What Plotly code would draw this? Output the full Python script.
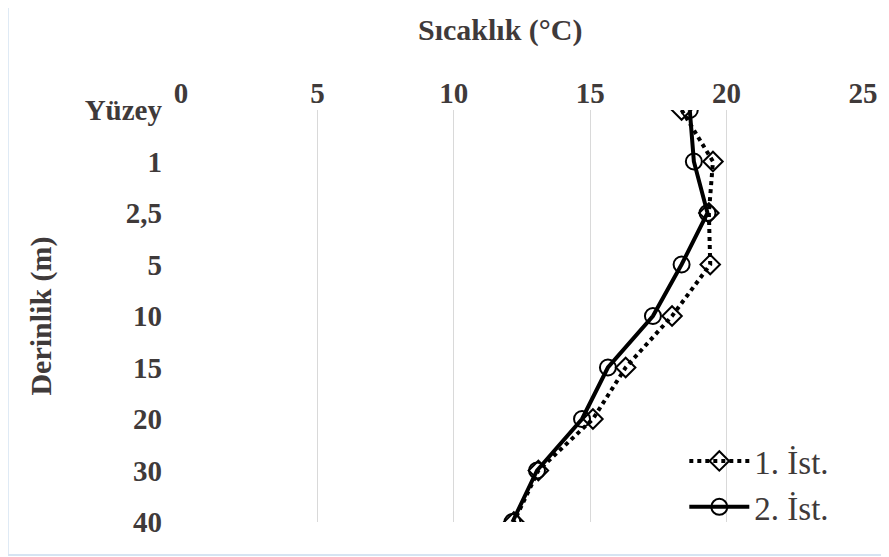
import plotly.graph_objects as go

depths = ["Yüzey", "1", "2,5", "5", "10", "15", "20", "30", "40"]
ist1 = [18.35, 19.5, 19.35, 19.4, 18.0, 16.3, 15.1, 13.1, 12.2]
ist2 = [18.65, 18.8, 19.3, 18.35, 17.3, 15.65, 14.7, 13.05, 12.15]
x_ticks = [0, 5, 10, 15, 20, 25]

SERIF = "Liberation Serif, Times New Roman, serif"
TXT = "#3f3a3a"

fig = go.Figure()
fig.add_trace(go.Scatter(
    x=ist1, y=depths, name="1. İst.", mode="lines+markers",
    line=dict(color="black", width=4, dash="4px,4px"),
    marker=dict(symbol="diamond-open", size=15, color="black", line=dict(width=2)),
))
fig.add_trace(go.Scatter(
    x=ist2, y=depths, name="2. İst.", mode="lines+markers",
    line=dict(color="black", width=4),
    marker=dict(symbol="circle-open", size=16, color="black", line=dict(width=2)),
))

fig.update_layout(
    width=889, height=557,
    paper_bgcolor="white", plot_bgcolor="white",
    margin=dict(l=173, r=34, t=102, b=43),
    font=dict(family=SERIF, color=TXT),
    xaxis=dict(
        side="top", range=[0, 25], tickvals=x_ticks,
        showgrid=True, gridcolor="#d9d9d9", gridwidth=1,
        zeroline=False, showline=False, ticks="",
        tickfont=dict(family=SERIF, size=29, color=TXT, weight="bold"),
    ),
    yaxis=dict(
        type="category", categoryorder="array", categoryarray=depths,
        range=[8, 0], showgrid=False, zeroline=False, showline=False, ticks="",
        ticklabelstandoff=18,
        tickfont=dict(family=SERIF, size=29, color=TXT, weight="bold"),
        title=dict(text="Derinlik (m)", font=dict(family=SERIF, size=30, color=TXT, weight="bold"), standoff=24),
    ),
    legend=dict(
        x=0.738, y=0.216, xanchor="left", yanchor="top",
        font=dict(family=SERIF, size=33, color=TXT),
        bgcolor="rgba(255,255,255,0)", itemwidth=60, tracegroupgap=0,
    ),
    showlegend=True,
)

fig.add_annotation(text="Sıcaklık (°C)", xref="paper", yref="paper", x=0.469, y=1.194,
                   xanchor="center", yanchor="middle", showarrow=False,
                   font=dict(family=SERIF, size=30, color=TXT, weight="bold"))

fig.add_shape(type="rect", xref="paper", yref="paper", x0=-0.254, x1=1.06, y0=-0.08, y1=1.255,
              line=dict(color="#d6e4f2", width=2), layer="below")

fig.write_html("out.html")
